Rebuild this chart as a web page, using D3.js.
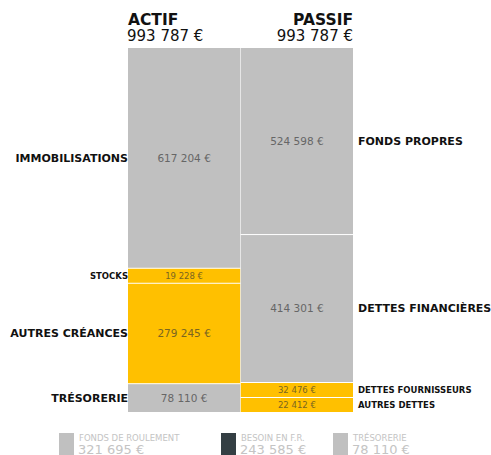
<!DOCTYPE html>
<html>
<head>
<meta charset="utf-8">
<script src="https://cdn.jsdelivr.net/npm/d3@7"></script>
<style>
  body { margin: 0; background: #fff; }
  text { font-family: "DejaVu Sans", sans-serif; }
</style>
</head>
<body>
<script>
// actif side
var actifLabels = ["IMMOBILISATIONS", "STOCKS", "AUTRES CRÉANCES", "TRÉSORERIE"];
var actifValues = [617204, 19228, 279245, 78110];
var actifKinds = ["grey", "yellow", "yellow", "grey"];

// passif side
var passifLabels = ["FONDS PROPRES", "DETTES FINANCIÈRES", "DETTES FOURNISSEURS", "AUTRES DETTES"];
var passifValues = [524598, 414301, 32476, 22412];
var passifKinds = ["grey", "grey", "yellow", "yellow"];

var totalLabel = "993 787 €";

var legendLabels = ["FONDS DE ROULEMENT", "BESOIN EN F.R.", "TRÉSORERIE"];
var legendValues = ["321 695 €", "243 585 €", "78 110 €"];
var legendColors = ["#c0c0c0", "#343f44", "#c0c0c0"];

var width = 491, height = 455;
var stackTop = 48, stackBottom = 412;
var minH = 14, gap = 1;

var fmt = function(v) { return d3.format(",")(v).replace(/,/g, " ") + " €"; };
var fill = { grey: "#c0c0c0", yellow: "#ffc000" };
var txt = { grey: "#666", yellow: "#7a6520" };

var svg = d3.select("body").append("svg")
    .attr("width", width)
    .attr("height", height);

var x = d3.scaleBand()
    .domain(["actif", "passif"])
    .range([128, 353])
    .paddingInner(0.005);

// stack segments, small ones get a minimum height
function layout(values) {
    var n = values.length;
    var avail = stackBottom - stackTop - gap * (n - 1);
    var small = values.map(() => false);
    var k;
    for (var it = 0; it < 5; it++) {
        var rest = avail - d3.sum(small, (s) => s ? minH : 0);
        var sumBig = d3.sum(values, (v, i) => small[i] ? 0 : v);
        k = rest / sumBig;
        values.forEach((v, i) => { if (v * k < minH) small[i] = true; });
    }
    var y = stackTop;
    return values.map((v, i) => {
        var h = small[i] ? minH : v * k;
        var seg = { y0: y, y1: y + h, v: v };
        y += h + gap;
        return seg;
    });
}

function drawSide(key, labels, values, kinds, labelSide) {
    var segs = layout(values);
    var g = svg.append("g");
    var x0 = x(key), bw = x.bandwidth();

    g.selectAll("rect")
        .data(segs)
        .enter()
        .append("rect")
        .attr("x", x0)
        .attr("y", (d) => d.y0)
        .attr("width", bw)
        .attr("height", (d) => d.y1 - d.y0)
        .attr("fill", (d, i) => fill[kinds[i]]);

    g.selectAll("text.val")
        .data(segs)
        .enter()
        .append("text")
        .attr("class", "val")
        .attr("x", x0 + bw / 2)
        .attr("y", (d) => (d.y0 + d.y1) / 2)
        .attr("dy", "0.35em")
        .attr("text-anchor", "middle")
        .attr("font-size", (d) => (d.y1 - d.y0) < 16 ? "8.5px" : "10.5px")
        .attr("fill", (d, i) => txt[kinds[i]])
        .text((d) => fmt(d.v));

    g.selectAll("text.lab")
        .data(segs)
        .enter()
        .append("text")
        .attr("class", "lab")
        .attr("x", labelSide == "left" ? x0 : x0 + bw + 5)
        .attr("y", (d) => (d.y0 + d.y1) / 2)
        .attr("dy", "0.35em")
        .attr("text-anchor", labelSide == "left" ? "end" : "start")
        .attr("font-weight", "bold")
        .attr("font-size", (d) => (d.y1 - d.y0) < 16 ? "8.5px" : "11px")
        .attr("fill", "#111")
        .text((d, i) => labels[i]);
}

drawSide("actif", actifLabels, actifValues, actifKinds, "left");
drawSide("passif", passifLabels, passifValues, passifKinds, "right");

// headers
svg.append("text").attr("x", 128).attr("y", 24.5)
    .attr("font-size", "15.5px").attr("font-weight", "bold").attr("fill", "#111")
    .text("ACTIF");
svg.append("text").attr("x", 127).attr("y", 41)
    .attr("font-size", "15px").attr("fill", "#111")
    .text(totalLabel);
svg.append("text").attr("x", 353).attr("y", 24.5).attr("text-anchor", "end")
    .attr("font-size", "15.5px").attr("font-weight", "bold").attr("fill", "#111")
    .text("PASSIF");
svg.append("text").attr("x", 353).attr("y", 41).attr("text-anchor", "end")
    .attr("font-size", "15px").attr("fill", "#111")
    .text(totalLabel);

// legend
var legendX = [59, 221, 333];
var lg = svg.selectAll("g.legend")
    .data(legendLabels)
    .enter()
    .append("g")
    .attr("class", "legend")
    .attr("transform", (d, i) => "translate(" + legendX[i] + ",433)");

lg.append("rect")
    .attr("width", 15).attr("height", 22)
    .attr("fill", (d, i) => legendColors[i]);
lg.append("text")
    .attr("x", 20).attr("y", 8)
    .attr("font-size", "8.5px").attr("fill", "#c4c4c4")
    .text((d) => d);
lg.append("text")
    .attr("x", 19).attr("y", 20.5)
    .attr("font-size", "13px").attr("fill", "#c4c4c4")
    .text((d, i) => legendValues[i]);
</script>
</body>
</html>
